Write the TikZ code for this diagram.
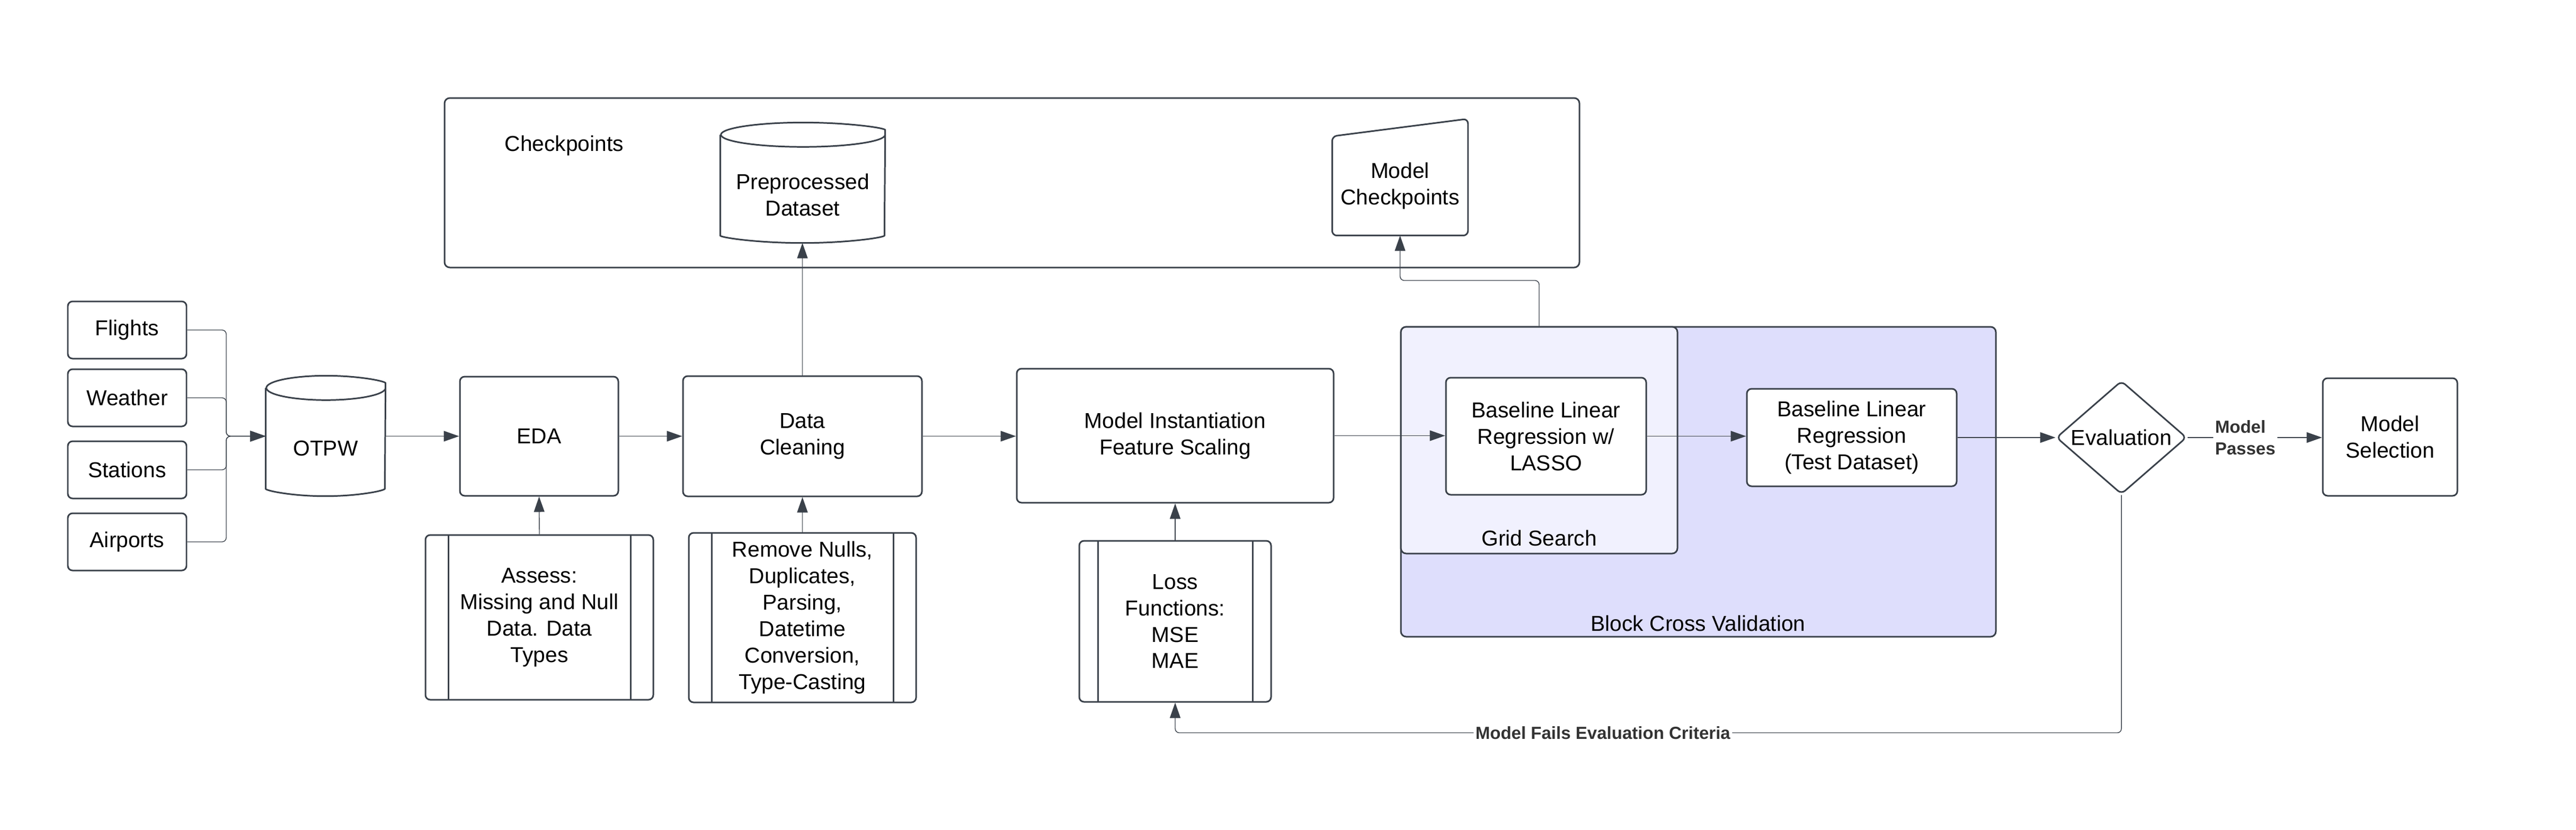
\documentclass[tikz,border=0pt]{standalone}
\usepackage{fontspec}
\setmainfont{Liberation Sans}
\usetikzlibrary{arrows.meta,shapes.geometric}

\definecolor{LucidLine}{HTML}{3A414A}
\definecolor{LabelGray}{HTML}{333333}
\definecolor{CVFill}{HTML}{DEDEFC}
\definecolor{GridFill}{HTML}{F1F1FE}

\begin{document}
\begin{tikzpicture}[
    % Environment Config
    font=\fontsize{11.6}{14.2}\selectfont,
    Flow/.style={% Style for the connectors
      -{Triangle[length=0.29cm,width=0.2cm]},
      LucidLine,
      line width=0.4pt,
      rounded corners=0.08cm
    },
    ShapeLine/.style={% Style for the shape borders
      draw=LucidLine,
      line width=0.85pt,
      rounded corners=0.09cm
    },
    Box/.style={% Style for the process boxes
      ShapeLine,
      rectangle,
      align=center,
      fill=white
    },
    SubProc/.style={% Box with a bar on each side
      Box,
      path picture={
        \draw[LucidLine, line width=0.85pt]
          ([xshift=#1]path picture bounding box.north west) -- ([xshift=#1]path picture bounding box.south west)
          ([xshift=-#1]path picture bounding box.north east) -- ([xshift=-#1]path picture bounding box.south east);
      }
    },
    SubProc/.default=0.43cm,
    Group/.style={% Style for the containers
      ShapeLine,
      rectangle,
      rounded corners=0.1cm
    },
    Store/.style={% Body of a cylinder
      draw=none,
      align=center,
      inner sep=0pt,
      minimum height=1.8cm
    },
    Decision/.style={% Style for the diamond
      ShapeLine,
      diamond,
      shape aspect=1.15,
      inner sep=0pt,
      fill=white
    },
    EdgeLabel/.style={% Style for the connector labels
      font=\fontsize{9.4}{11.6}\selectfont\bfseries,
      text=LabelGray,
      fill=white,
      inner sep=1pt
    }
  ]

  \def\StoreRy{0.23cm}
  \def\MyStore(#1)#2#3#4{% Cylinder: center of body, name, width, text
    \draw(#1) node[Store, minimum width=#3](#2){#4};
    \draw[ShapeLine]
      ([yshift=\StoreRy]#2.north west) -- ([yshift=\StoreRy]#2.south west)
      arc[start angle=180, end angle=360, x radius=#3/2, y radius=\StoreRy]
      -- ([yshift=\StoreRy]#2.north east)
      arc[start angle=0, end angle=360, x radius=#3/2, y radius=\StoreRy];
  }

  \path[use as bounding box, fill=white] (0,0) rectangle (48.62,-15.66);

  % Containers
  \draw(19.10,-3.45) node[Group, minimum width=21.42cm, minimum height=3.20cm](Ckpt){};
  \draw(32.055,-9.095) node[Group, fill=CVFill, minimum width=11.23cm, minimum height=5.85cm](CV){};
  \draw(29.05,-8.31) node[Group, fill=GridFill, minimum width=5.22cm, minimum height=4.28cm](Grid){};
  \draw(9.52,-2.75) node[anchor=west, inner sep=0pt](CkptLbl){Checkpoints};
  \draw(29.05,-10.16) node[inner sep=0pt](GridLbl){Grid Search};
  \draw(32.05,-11.77) node[inner sep=0pt](CVLbl){Block Cross Validation};

  % Data sources
  \foreach \Name/\Y in {Flights/-6.23, Weather/-7.51, Stations/-8.87, Airports/-10.23}
    \draw(2.40,\Y) node[Box, minimum width=2.24cm, minimum height=1.08cm](\Name){\Name};

  % Cylinders
  \MyStore(6.145,-8.46){OTPW}{2.25cm}{OTPW}
  \MyStore(15.15,-3.68){Prep}{3.10cm}{Preprocessed\\Dataset}

  % Manual input shape
  \draw(26.425,-3.51) node[draw=none, align=center, minimum width=2.55cm, minimum height=1.86cm](MChk){Model\\Checkpoints};
  \draw[ShapeLine] (MChk.south west) -- (MChk.north west)
    -- ([yshift=0.33cm]MChk.north east) -- (MChk.south east) -- cycle;

  % Main steps
  \draw(10.175,-8.235) node[Box, minimum width=2.99cm, minimum height=2.25cm](EDA){EDA};
  \draw(15.145,-8.235) node[Box, minimum width=4.51cm, minimum height=2.27cm](Clean){Data\\Cleaning};
  \draw(22.18,-8.225) node[Box, minimum width=5.98cm, minimum height=2.53cm](ModelInst){Model Instantiation\\Feature Scaling};
  \draw(29.18,-8.235) node[Box, minimum width=3.78cm, minimum height=2.21cm](Lasso){Baseline Linear\\Regression w/\\LASSO};
  \draw(34.95,-8.26) node[Box, minimum width=3.96cm, minimum height=1.84cm](TestReg){Baseline Linear\\Regression\\(Test Dataset)};
  \draw(40.04,-8.26) node[Decision, minimum width=2.46cm, minimum height=2.14cm](Eval){Evaluation};
  \draw(45.11,-8.25) node[Box, minimum width=2.54cm, minimum height=2.22cm](Select){Model\\Selection};

  % Sub processes
  \draw(10.18,-11.655) node[SubProc, minimum width=4.30cm, minimum height=3.11cm](Assess){Assess:\\Missing and Null\\Data. Data\\Types};
  \draw(15.145,-11.66) node[SubProc, minimum width=4.29cm, minimum height=3.20cm](Remove){Remove Nulls,\\Duplicates,\\Parsing,\\Datetime\\Conversion,\\Type-Casting};
  \draw(22.18,-11.73) node[SubProc=0.35cm, minimum width=3.62cm, minimum height=3.04cm](Loss){Loss\\Functions:\\MSE\\MAE};

  % Draw the connectors
  %===Sources into OTPW===
  \coordinate (Bus) at (4.27,-8.235);
  \foreach \Src in {Flights,Weather,Stations,Airports}
    \draw[Flow] (\Src.east) -| (Bus) -- (Bus -| OTPW.west);

  %===Main line===
  \draw[Flow] (EDA.west -| OTPW.east) -- (EDA.west);
  \draw[Flow] (EDA.east) -- (Clean.west);
  \draw[Flow] (Clean.east) -- (Clean.east -| ModelInst.west);
  \draw[Flow] (ModelInst.east) -- (ModelInst.east -| Lasso.west);
  \draw[Flow] (Lasso.east) -- (Lasso.east -| TestReg.west);
  \draw[Flow] (TestReg.east) -- (Eval.west);
  \draw[Flow] (Eval.east) -- (Eval.east -| Select.west)
      node[EdgeLabel, pos=0.43, align=left](PassLbl){Model\\Passes};

  %===Sub processes===
  \draw[Flow] (Assess.north) -- (EDA.south);
  \draw[Flow] (Remove.north) -- (Clean.south);
  \draw[Flow] (Loss.north) -- (ModelInst.south);

  %===Checkpoints===
  \draw[Flow] (Clean.north) -- (Clean.north |- Prep.south);
  \draw[Flow] (Grid.north) -- ++(0,0.86) -| (MChk.south);

  %===Back to the loss functions===
  \draw[Flow] (Eval.south)
      |- ([yshift=-0.57cm]Loss.south)
      node[EdgeLabel, pos=0.774](FailLbl){Model Fails Evaluation Criteria}
      -- (Loss.south);

\end{tikzpicture}
\end{document}
